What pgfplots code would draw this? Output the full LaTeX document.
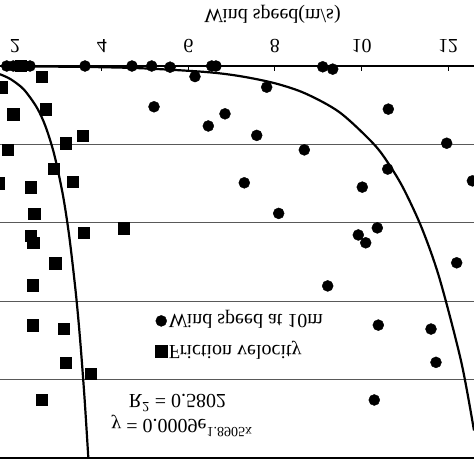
\documentclass[border=0pt]{standalone}
\usepackage{pgfplots}
\pgfplotsset{compat=1.18}
\usepackage{fontspec}
\setmainfont{Liberation Serif}
\newcommand\ff{\fontsize{20}{24}\selectfont}
\begin{document}
\begin{tikzpicture}
\begin{axis}[
  width=474pt, height=392pt, scale only axis,
  xmin=1.649, xmax=12.596, ymin=0, ymax=1,
  y dir=reverse,
  clip=false,
  separate axis lines,
  x axis line style={line width=2pt, black},
  y axis line style={draw=none},
  xtick={2,4,6,8,10,12},
  xtick pos=right,
  tick align=inside,
  major tick length=5pt,
  xtick style={line width=1pt, black},
  ytick={0.2,0.4,0.6,0.8},
  yticklabels={},
  ytick style={draw=none},
  ymajorgrids,
  major grid style={line width=1pt, black!65},
  /pgf/number format/assume math mode=true,
  xticklabel style={font=\ff, yscale=-1, anchor=north, inner sep=0pt},
  xticklabel shift=13pt,
  legend cell align=left,
  legend image code/.code={\draw[mark repeat=1,#1] plot coordinates {(6pt,0pt)};},
  legend style={draw=none, fill=none, font=\ff, nodes={yscale=-1}, /tikz/row sep=11pt,
    at={(axis description cs:0.507,0.311)}, anchor=center},
]
% Wind speed at 10m
\addplot[only marks, mark=*, mark size=5.5pt, black] coordinates {
(1.804,0) (1.956,0) (2.226,0) (2.342,0) (3.612,0) (4.697,0) (5.152,0) (5.577,0.003)
(6.538,0) (6.637,0) (9.102,0.002) (9.333,0.008) (6.152,0.027) (7.808,0.054)
(5.206,0.104) (10.617,0.110) (6.845,0.122) (6.460,0.153) (7.578,0.177) (11.965,0.197)
(8.677,0.214) (10.603,0.263) (7.291,0.298) (10.016,0.309) (12.559,0.293) (8.085,0.376)
(10.363,0.413) (9.924,0.431) (10.095,0.451) (12.196,0.502) (9.217,0.561) (10.386,0.661)
(11.603,0.671) (11.718,0.756) (10.293,0.852) (12.78,0.425)
};
\addlegendentry{Wind speed at 10m}
% Friction velocity
\addplot[only marks, mark=square*, mark size=5.6pt, black] coordinates {
(2.134,0) (2.612,0.027) (1.686,0.054) (1.956,0.123) (2.711,0.110) (3.550,0.177)
(3.173,0.197) (1.822,0.214) (2.896,0.263) (3.328,0.295) (1.614,0.299) (2.365,0.309)
(2.441,0.377) (3.589,0.425) (4.497,0.414) (2.365,0.433) (2.418,0.451) (2.926,0.503)
(2.395,0.559) (2.395,0.661) (3.127,0.670) (3.173,0.757) (3.751,0.784) (2.619,0.852)
};
\addlegendentry{Friction velocity}
% trend lines
\addplot[black, line width=2.2pt, smooth, forget plot] coordinates {
(1.649,0.021) (1.9,0.034) (2.2,0.060) (2.5,0.106) (2.7,0.154) (2.9,0.225)
(3.1,0.328) (3.25,0.436) (3.4,0.579) (3.5,0.699) (3.6,0.845) (3.689,1.0)
};
\addplot[black, line width=2.2pt, smooth, forget plot] coordinates {
(2.0,0.001) (3.5,0.0022) (4.9,0.0057) (6.4,0.0153) (7.2,0.026) (8.0,0.0441)
(8.7,0.070) (9.5,0.1188) (10.3,0.2014) (10.7,0.2623) (11.0,0.3196)
(11.4,0.416) (11.8,0.542) (12.3,0.754) (12.596,0.93)
};
\node[yscale=-1, font=\ff] at ([yshift=52pt]axis cs:7.942,0) {Wind speed(m/s)};
\node[yscale=-1, font=\ff] at (axis cs:5.748,0.860) {R\textsuperscript{2} = 0.5802};
\node[yscale=-1, font=\ff] at (axis cs:5.852,0.918) {y = 0.0009e\textsuperscript{1.8905x}};
\coordinate (bl) at (axis cs:1.649,1);
\coordinate (tr) at (axis cs:12.596,0);
\end{axis}
\pgfresetboundingbox
\path ([yshift=-16pt]bl) rectangle ([yshift=66pt]tr);
\end{tikzpicture}
\end{document}
